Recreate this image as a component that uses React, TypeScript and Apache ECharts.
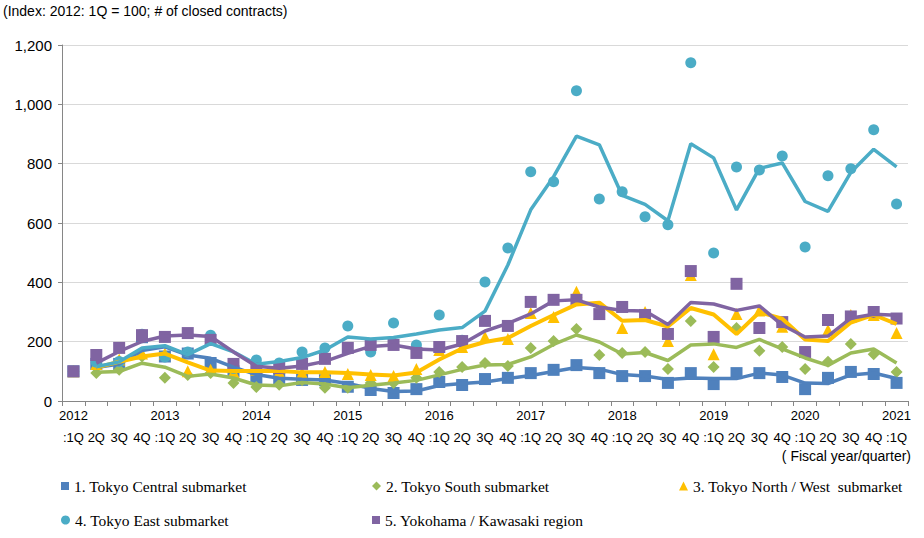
import React, { useEffect, useRef } from "react";
import * as echarts from "echarts";

const quarters: string[] = [
  "2012\n:1Q", "\n2Q", "\n3Q", "\n4Q",
  "2013\n:1Q", "\n2Q", "\n3Q", "\n4Q",
  "2014\n:1Q", "\n2Q", "\n3Q", "\n4Q",
  "2015\n:1Q", "\n2Q", "\n3Q", "\n4Q",
  "2016\n:1Q", "\n2Q", "\n3Q", "\n4Q",
  "2017\n:1Q", "\n2Q", "\n3Q", "\n4Q",
  "2018\n:1Q", "\n2Q", "\n3Q", "\n4Q",
  "2019\n:1Q", "\n2Q", "\n3Q", "\n4Q",
  "2020\n:1Q", "\n2Q", "\n3Q", "\n4Q",
  "2021\n:1Q",
];

const tokyoCentral = [100, 125, 125, 215, 150, 160, 128, 100, 78, 75, 71, 70, 48, 37, 27, 40, 64, 54, 74, 78, 94, 105, 121, 94, 84, 84, 61, 94, 57, 94, 94, 81, 40, 78, 98, 91, 61];
const tokyoSouth = [100, 94, 105, 150, 78, 88, 94, 61, 47, 55, 70, 45, 45, 61, 61, 78, 98, 115, 128, 118, 179, 202, 243, 155, 162, 165, 108, 270, 115, 246, 169, 182, 108, 132, 192, 158, 98];
const tokyoNorthWest = [100, 125, 140, 160, 160, 100, 105, 98, 105, 98, 95, 98, 91, 88, 84, 108, 172, 182, 216, 209, 297, 283, 368, 295, 246, 300, 202, 425, 158, 293, 305, 250, 165, 239, 290, 290, 229];
const tokyoEast = [100, 131, 133, 225, 148, 165, 222, 110, 138, 128, 165, 179, 253, 165, 263, 189, 290, 205, 401, 516, 773, 739, 1046, 681, 705, 621, 594, 1140, 499, 789, 779, 826, 519, 759, 783, 914, 664];
const yokohamaKawasaki = [100, 155, 179, 222, 216, 229, 206, 125, 110, 111, 125, 142, 179, 189, 189, 162, 182, 202, 270, 253, 334, 341, 341, 293, 317, 290, 226, 438, 216, 395, 246, 266, 165, 273, 285, 300, 278];

const seriesNames = [
  "1. Tokyo Central submarket",
  "2. Tokyo South submarket",
  "3. Tokyo North / West  submarket",
  "4. Tokyo East submarket",
  "5. Yokohama / Kawasaki region",
];
const colors = ["#4f81bd", "#9bbb59", "#ffc000", "#4bacc6", "#8064a2"];
const symbols = ["rect", "diamond", "triangle", "circle", "rect"];
const symbolSizes = [12, 12, 12, 11, 12];

// Excel-style 2-period moving-average trend line of each series
function movingAvg2(d: number[]): (number | null)[] {
  return d.map((v, i) => (i === 0 ? null : (d[i - 1] + v) / 2));
}

export default function App() {
  const ref = useRef<HTMLDivElement>(null);
  useEffect(() => {
    if (!ref.current) return;
    const chart = echarts.init(ref.current, null, { renderer: "svg" });
    const data = [tokyoCentral, tokyoSouth, tokyoNorthWest, tokyoEast, yokohamaKawasaki];
    const scatterSeries = data.map((d, k) => ({
      name: seriesNames[k],
      type: "scatter",
      data: d,
      symbol: symbols[k],
      symbolSize: symbolSizes[k],
      itemStyle: { color: colors[k], opacity: 1 },
      z: 2 + k * 0.01,
    }));
    const lineSeries = data.map((d, k) => ({
      name: "ma" + k,
      type: "line",
      data: movingAvg2(d),
      showSymbol: false,
      symbol: "none",
      lineStyle: { color: colors[k], width: k === 2 ? 4 : 3.5 },
      itemStyle: { color: colors[k] },
      z: 3 + k * 0.01,
    }));
    const legendPos = [
      { left: 56, top: 473 },
      { left: 367, top: 473 },
      { left: 674, top: 473 },
      { left: 56, top: 507 },
      { left: 367, top: 507 },
    ];
    const legends = seriesNames.map((n, k) => ({
      data: [{ name: n, icon: symbols[k] }],
      left: legendPos[k].left,
      top: legendPos[k].top,
      itemWidth: symbols[k] === "rect" ? 8 : 9,
      itemHeight: symbols[k] === "rect" ? 8 : 9,
      itemGap: 4,
      selectedMode: false,
      textStyle: { fontFamily: "Liberation Serif", fontSize: 15.5, color: "#000" },
    }));

    chart.setOption({
      animation: false,
      backgroundColor: "#fff",
      grid: { left: 62, right: 16, top: 45, bottom: 137 },
      legend: legends,
      graphic: [
        {
          type: "text",
          left: 3,
          top: 4,
          style: {
            text: "(Index: 2012: 1Q = 100; # of closed contracts)",
            font: "14px 'Liberation Sans'",
            fill: "#000",
          },
        },
        {
          type: "text",
          right: 13,
          top: 449,
          style: {
            text: "( Fiscal year/quarter)",
            font: "14px 'Liberation Sans'",
            fill: "#000",
          },
        },
      ],
      xAxis: {
        type: "category",
        data: quarters,
        boundaryGap: true,
        axisLine: { show: true, lineStyle: { color: "#868686", width: 1 } },
        axisTick: { show: true, interval: 0, length: 5, lineStyle: { color: "#868686" } },
        axisLabel: {
          interval: 0,
          margin: 3,
          fontFamily: "Liberation Sans",
          fontSize: 13,
          lineHeight: 22,
          color: "#000",
        },
        splitLine: { show: false },
      },
      yAxis: {
        type: "value",
        min: 0,
        max: 1200,
        interval: 200,
        axisLine: { show: true, lineStyle: { color: "#868686", width: 1 } },
        axisTick: { show: true, length: 4, lineStyle: { color: "#868686" } },
        axisLabel: {
          margin: 10,
          fontFamily: "Liberation Sans",
          fontSize: 15,
          color: "#000",
          formatter: (v: number) => v.toLocaleString("en-US"),
        },
        splitLine: { show: true, lineStyle: { color: "#d9d9d9", width: 1 } },
      },
      series: [...scatterSeries, ...lineSeries],
    });
    return () => chart.dispose();
  }, []);
  return (
    <div
      ref={ref}
      style={{ position: "fixed", left: 0, top: 0, width: 924, height: 538 }}
    />
  );
}
